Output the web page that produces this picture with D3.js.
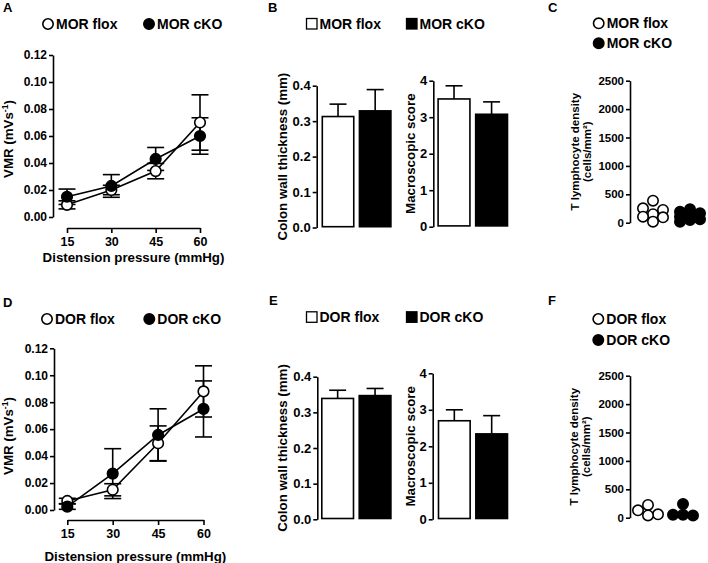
<!DOCTYPE html>
<html><head><meta charset="utf-8">
<script src="https://cdn.jsdelivr.net/npm/d3@7"></script>
<style>
body{margin:0;background:#fff}
svg text{font-family:"Liberation Sans",Arial,sans-serif;font-weight:bold;fill:#000}
</style>
</head><body>
<svg id="c" width="708" height="563"></svg>
<script>
// ---------- data ----------
const pressures = [15, 30, 45, 60];
const vmrTicks = [0, 0.02, 0.04, 0.06, 0.08, 0.10, 0.12];

const morFloxVMR    = [0.009, 0.020, 0.034, 0.070];
const morFloxVMRErr = [0.003, 0.0035, 0.0057, 0.0205];
const morCkoVMR     = [0.015, 0.023, 0.043, 0.060];
const morCkoVMRErr  = [0.0057, 0.0084, 0.0085, 0.0135];

const dorFloxVMR    = [0.0067, 0.015, 0.0495, 0.088];
const dorFloxVMRErr = [0.002, 0.0045, 0.0129, 0.019];
const dorCkoVMR     = [0.0025, 0.027, 0.0557, 0.075];
const dorCkoVMRErr  = [0.002, 0.0185, 0.0194, 0.0208];

const thickTicks = [0, 0.1, 0.2, 0.3, 0.4];
const scoreTicks = [0, 1, 2, 3, 4];
const tcellTicks = [0, 500, 1000, 1500, 2000, 2500];

const morThick    = [0.313, 0.329];
const morThickErr = [0.035, 0.060];
const morScore    = [3.50, 3.08];
const morScoreErr = [0.36, 0.34];

const dorThick    = [0.339, 0.347];
const dorThickErr = [0.023, 0.020];
const dorScore    = [2.70, 2.34];
const dorScoreErr = [0.30, 0.50];

const tcellMorFlox = [387, 253, 224, 150, 95, 106, 18];
const tcellMorCko  = [236, 194, 165, 120, 106, 60, 48, 18];
const tcellDorFlox = [225, 130, 60, 40];
const tcellDorCko  = [240, 50, 40, 50];

// ---------- drawing ----------
const FONT = '"Liberation Sans", Arial, sans-serif';
const svg = d3.select("#c");

function styleAxis(g, fs) {
  g.attr("font-family", FONT).attr("font-weight", "bold").attr("font-size", fs);
  g.selectAll("path,line").attr("stroke", "#000").attr("stroke-width", 1.6);
  g.selectAll("text").attr("fill", "#000");
}

function label(txt, x, y) {
  svg.append("text").attr("x", x).attr("y", y).attr("font-size", 13).text(txt);
}

function legendCircle(x, y, filled, txt) {
  svg.append("circle").attr("cx", x).attr("cy", y).attr("r", 5.2)
    .attr("fill", filled ? "#000" : "#fff").attr("stroke", "#000").attr("stroke-width", 1.6);
  svg.append("text").attr("x", x + 8).attr("y", y + 5).attr("font-size", 14).text(txt);
}
function legendSquare(x, y, filled, txt) {
  svg.append("rect").attr("x", x).attr("y", y).attr("width", 10.5).attr("height", 10.5)
    .attr("fill", filled ? "#000" : "#fff").attr("stroke", "#000").attr("stroke-width", 1.3);
  svg.append("text").attr("x", x + 13).attr("y", y + 10.5).attr("font-size", 14).text(txt);
}

function rotTitle(x, y, fs, parts) {
  const t = svg.append("text").attr("transform", `translate(${x},${y}) rotate(-90)`)
    .attr("text-anchor", "middle").attr("dy", "0.35em").attr("font-size", fs);
  parts(t);
}

function linePanel(o) {
  const x = d3.scaleLinear().domain([15, 60]).range([o.x0, o.x1]);
  const y = d3.scaleLinear().domain([0, 0.12]).range([o.yBot, o.yTop]);
  const gy = svg.append("g").attr("transform", `translate(${o.axisX},0)`)
    .call(d3.axisLeft(y).tickValues(vmrTicks).tickFormat(d3.format(".2f")).tickSize(4).tickSizeOuter(0).tickPadding(2));
  styleAxis(gy, 12);
  const gx = svg.append("g").attr("transform", `translate(0,${o.xAxisY})`)
    .call(d3.axisBottom(x).tickValues(pressures).tickFormat(d3.format("d")).tickSize(5).tickSizeOuter(0).tickPadding(4));
  styleAxis(gx, 12.5);
  const series = [
    {v: o.flox, e: o.floxErr, fill: "#fff"},
    {v: o.cko, e: o.ckoErr, fill: "#000"}
  ];
  const cap = 8.5;
  series.forEach(s => {
    const g = svg.append("g").attr("stroke", "#000").attr("stroke-width", 1.6);
    pressures.forEach((p, i) => {
      const cx = x(p), lo = y(s.v[i] - s.e[i]), hi = y(s.v[i] + s.e[i]);
      g.append("line").attr("x1", cx).attr("x2", cx).attr("y1", lo).attr("y2", hi);
      g.append("line").attr("x1", cx - cap).attr("x2", cx + cap).attr("y1", lo).attr("y2", lo);
      g.append("line").attr("x1", cx - cap).attr("x2", cx + cap).attr("y1", hi).attr("y2", hi);
    });
  });
  const line = d3.line().x((d, i) => x(pressures[i])).y(d => y(d));
  series.forEach(s => {
    svg.append("path").attr("d", line(s.v)).attr("fill", "none").attr("stroke", "#000").attr("stroke-width", 1.6);
  });
  series.forEach(s => {
    svg.append("g").selectAll("circle").data(s.v).join("circle")
      .attr("cx", (d, i) => x(pressures[i])).attr("cy", d => y(d)).attr("r", 5.3)
      .attr("fill", s.fill).attr("stroke", "#000").attr("stroke-width", 1.6);
  });
  rotTitle(o.titleX, o.titleY, 13.3, t => {
    t.append("tspan").text("VMR (mVs");
    t.append("tspan").attr("dy", -5).attr("font-size", 8.5).text("-1");
    t.append("tspan").attr("dy", 5).text(")");
  });
  svg.append("text").attr("x", (o.x0 + o.x1) / 2).attr("y", o.xTitleY).attr("text-anchor", "middle")
    .attr("font-size", 13.3).text("Distension pressure (mmHg)");
}

function barPanel(o) {
  const x = d3.scaleBand().domain(["flox", "cko"]).range([o.x0, o.x1]).paddingInner(0.11);
  const y = d3.scaleLinear().domain([0, o.ticks[o.ticks.length - 1]]).range([o.yBot, o.yTop]);
  const gy = svg.append("g").attr("transform", `translate(${o.axisX},0)`)
    .call(d3.axisLeft(y).tickValues(o.ticks).tickFormat(d3.format(o.fmt)).tickSize(4).tickSizeOuter(0).tickPadding(2));
  styleAxis(gy, 13);
  const keys = ["flox", "cko"];
  o.vals.forEach((v, i) => {
    const k = keys[i];
    const bx = x(k), bw = x.bandwidth(), cx = bx + bw / 2;
    const top = y(v + o.errs[i]);
    svg.append("line").attr("x1", cx).attr("x2", cx).attr("y1", y(v)).attr("y2", top)
      .attr("stroke", "#000").attr("stroke-width", 1.6);
    svg.append("line").attr("x1", cx - 8.5).attr("x2", cx + 8.5).attr("y1", top).attr("y2", top)
      .attr("stroke", "#000").attr("stroke-width", 1.6);
    svg.append("rect").attr("x", bx + 0.8).attr("y", y(v)).attr("width", bw - 1.6).attr("height", y(0) - y(v) - 0.8)
      .attr("fill", i === 0 ? "#fff" : "#000").attr("stroke", "#000").attr("stroke-width", 1.6);
  });
  rotTitle(o.titleX, (o.yTop + o.yBot) / 2, 13.3, t => t.text(o.title));
}

// column-based scatter layout (GraphPad-like): offsets in steps, limited width,
// falls back to the least-overlapping column when crowded
function scatterLayout(vals, y, cx, dia, step, maxK) {
  const order = vals.map((v, i) => i).sort((a, b) => vals[b] - vals[a]);
  const cand = [0];
  for (let k = 1; k <= maxK; k++) cand.push(-k * step, k * step);
  const placed = [];
  const out = new Array(vals.length);
  order.forEach(i => {
    const py = y(vals[i]);
    let best = null, bestD = -1;
    for (const c of cand) {
      let m = Infinity;
      placed.forEach(p => { m = Math.min(m, Math.hypot(p.x - c, p.y - py)); });
      if (m >= dia) { best = c; bestD = m; break; }
      if (m > bestD + 1e-6) { bestD = m; best = c; }
    }
    placed.push({x: best, y: py});
    out[i] = {x: cx + best, y: py};
  });
  return out;
}

function scatterPanel(o) {
  const y = d3.scaleLinear().domain([0, 2500]).range([o.yBot, o.yTop]);
  const gy = svg.append("g").attr("transform", `translate(${o.axisX},0)`)
    .call(d3.axisLeft(y).tickValues(tcellTicks).tickFormat(d3.format("d")).tickSize(4).tickSizeOuter(0).tickPadding(2));
  styleAxis(gy, 11.5);
  const x = d3.scalePoint().domain(["flox", "cko"]).range([o.cx0, o.cx1]);
  [[o.flox, "flox", "#fff"], [o.cko, "cko", "#000"]].forEach(([vals, k, fill]) => {
    const pts = scatterLayout(vals, y, x(k), 10.6, 10, 1);
    svg.append("g").selectAll("circle").data(pts).join("circle")
      .attr("cx", d => d.x).attr("cy", d => d.y).attr("r", 5.2)
      .attr("fill", fill).attr("stroke", "#000").attr("stroke-width", 1.6);
  });
  const my = (o.yTop + o.yBot) / 2;
  rotTitle(o.titleX, my, 11.5, t => t.text("T lymphocyte density"));
  rotTitle(o.titleX + 12, my, 11.5, t => t.text("(cells/mm²)"));
}

// ---- Row 1: MOR ----
label("A", 3, 12);
legendCircle(48, 24, false, "MOR flox");
legendCircle(149, 24, true, "MOR cKO");
linePanel({x0: 67, x1: 200, yTop: 55, yBot: 217, axisX: 53, xAxisY: 228, xTitleY: 262,
  titleX: 8, titleY: 139,
  flox: morFloxVMR, floxErr: morFloxVMRErr, cko: morCkoVMR, ckoErr: morCkoVMRErr});

label("B", 268, 12);
legendSquare(306.5, 18.5, false, "MOR flox");
legendSquare(406.5, 18.5, true, "MOR cKO");
barPanel({axisX: 316.7, x0: 321.5, x1: 391.7, yTop: 85.7, yBot: 227.5, ticks: thickTicks, fmt: ".1f",
  vals: morThick, errs: morThickErr, title: "Colon wall thickness (mm)", titleX: 282});
barPanel({axisX: 433.3, x0: 437.3, x1: 508.3, yTop: 80.7, yBot: 226.7, ticks: scoreTicks, fmt: "d",
  vals: morScore, errs: morScoreErr, title: "Macroscopic score", titleX: 410});

label("C", 548, 12);
legendCircle(598.7, 23.3, false, "MOR flox");
legendCircle(598.7, 43.3, true, "MOR cKO");
scatterPanel({axisX: 630, yTop: 80.7, yBot: 222.7, cx0: 653, cx1: 690, titleX: 575,
  flox: tcellMorFlox, cko: tcellMorCko});

// ---- Row 2: DOR ----
label("D", 3, 307);
legendCircle(47, 319, false, "DOR flox");
legendCircle(149.3, 319, true, "DOR cKO");
linePanel({x0: 67.3, x1: 203.5, yTop: 348.3, yBot: 510, axisX: 54, xAxisY: 520, xTitleY: 561,
  titleX: 8, titleY: 436,
  flox: dorFloxVMR, floxErr: dorFloxVMRErr, cko: dorCkoVMR, ckoErr: dorCkoVMRErr});

label("E", 269, 305);
legendSquare(306.5, 311.8, false, "DOR flox");
legendSquare(406.5, 311.8, true, "DOR cKO");
barPanel({axisX: 317.3, x0: 321, x1: 391.7, yTop: 376.7, yBot: 519.3, ticks: thickTicks, fmt: ".1f",
  vals: dorThick, errs: dorThickErr, title: "Colon wall thickness (mm)", titleX: 282});
barPanel({axisX: 432.7, x0: 437.7, x1: 508.3, yTop: 373.3, yBot: 519.3, ticks: scoreTicks, fmt: "d",
  vals: dorScore, errs: dorScoreErr, title: "Macroscopic score", titleX: 410});

label("F", 548, 305);
legendCircle(598.3, 319, false, "DOR flox");
legendCircle(598.3, 340, true, "DOR cKO");
scatterPanel({axisX: 630, yTop: 375.7, yBot: 517.7, cx0: 648, cx1: 683, titleX: 574,
  flox: tcellDorFlox, cko: tcellDorCko});
</script>
</body></html>
